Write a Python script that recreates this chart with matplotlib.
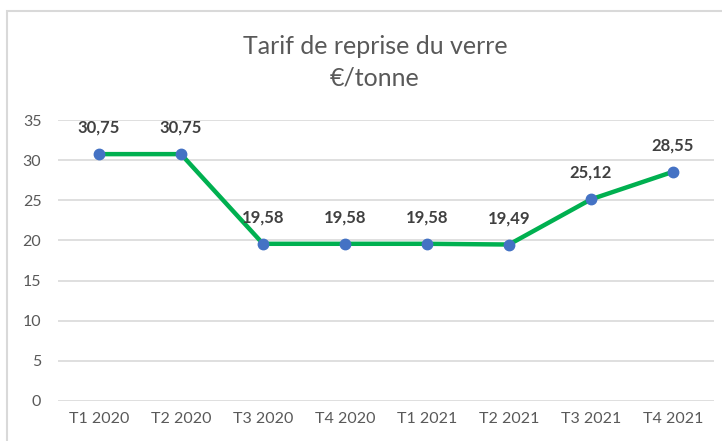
import matplotlib
matplotlib.use("Agg")
import matplotlib.pyplot as plt
from matplotlib.patches import Rectangle

categories = ["T1 2020", "T2 2020", "T3 2020", "T4 2020", "T1 2021", "T2 2021", "T3 2021", "T4 2021"]
values = [30.75, 30.75, 19.58, 19.58, 19.58, 19.49, 25.12, 28.55]
yticks = [0, 5, 10, 15, 20, 25, 30, 35]

plt.rcParams['font.family'] = ['Lato', 'DejaVu Sans']

fig = plt.figure(figsize=(7.22, 4.41), dpi=100)
fig.patches.append(Rectangle((7/722, -0.1), 1.2, 1 - 11/441 + 0.1, transform=fig.transFigure,
                             facecolor='none', edgecolor='#d9d9d9', linewidth=1.5, zorder=0))
ax = fig.add_axes([58/722, 1 - 401/441, (714 - 58)/722, (401 - 120)/441])
ax.set_facecolor('none')

x = list(range(len(categories)))
ax.plot(x, values, color='#00B050', linewidth=3.2, zorder=3, solid_capstyle='round')
ax.plot(x, values, linestyle='none', marker='o', markersize=7.5, color='#4472C4', zorder=4)
for xi, v in zip(x, values):
    ax.annotate(f"{v:.2f}".replace('.', ','), (xi, v), xytext=(0, 19), textcoords='offset points',
                ha='center', va='center', fontsize=12, fontweight='bold', color='#404040', zorder=5)

ax.set_xlim(-0.5, len(categories) - 0.5)
ax.set_ylim(0, 35)
ax.set_yticks(yticks)
ax.set_yticklabels([str(t) for t in yticks])
ax.set_xticks(x)
ax.set_xticklabels(categories)
ax.tick_params(axis='both', length=0, labelsize=11.5, colors='#595959')
ax.tick_params(axis='y', pad=12)
ax.tick_params(axis='x', pad=8)
ax.yaxis.grid(True, color='#d9d9d9', linewidth=1.2)
ax.set_axisbelow(True)
for s in ax.spines.values():
    s.set_visible(False)

fig.text(375/722, 1 - 47/441, "Tarif de reprise du verre", ha='center', va='center', fontsize=18, color='#595959')
fig.text(375/722, 1 - 78/441, "€/tonne", ha='center', va='center', fontsize=18, color='#595959')

fig.savefig("out.png", dpi=100)
